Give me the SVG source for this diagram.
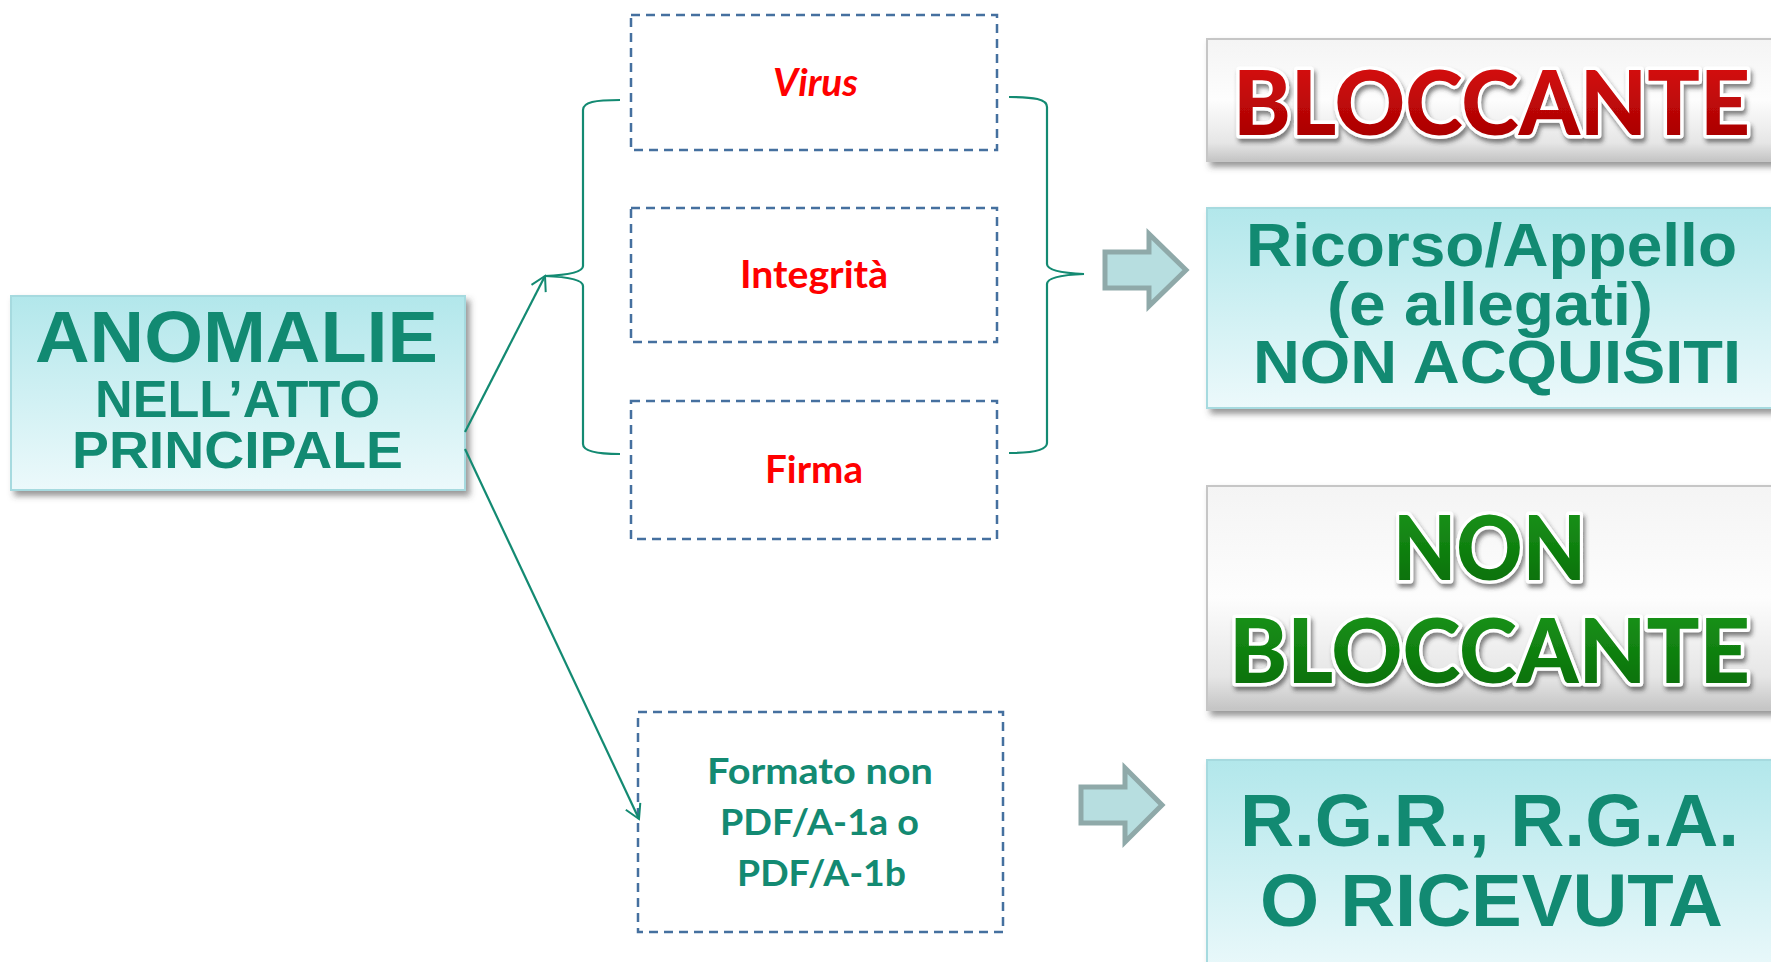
<svg xmlns="http://www.w3.org/2000/svg" width="1771" height="962" viewBox="0 0 1771 962">
<defs>
<linearGradient id="tealG" x1="0" y1="0" x2="0" y2="1">
<stop offset="0" stop-color="#b2e7eb"/><stop offset="1" stop-color="#ecf9fb"/>
</linearGradient>
<linearGradient id="grayG" x1="0" y1="0" x2="0" y2="1">
<stop offset="0" stop-color="#f4f4f4"/><stop offset="0.5" stop-color="#fdfdfd"/><stop offset="0.85" stop-color="#e6e6e6"/><stop offset="1" stop-color="#c4c4c4"/>
</linearGradient>
<linearGradient id="redG" x1="0" y1="0" x2="0" y2="1">
<stop offset="0" stop-color="#e01010"/><stop offset="1" stop-color="#a00000"/>
</linearGradient>
<linearGradient id="greenG" x1="0" y1="0" x2="0" y2="1">
<stop offset="0" stop-color="#1d9a1d"/><stop offset="1" stop-color="#056a05"/>
</linearGradient>
<filter id="sh" x="-5%" y="-10%" width="115%" height="130%">
<feDropShadow dx="4" dy="5" stdDeviation="3" flood-color="#444" flood-opacity="0.55"/>
</filter>
<filter id="tsh" x="-5%" y="-10%" width="115%" height="130%">
<feDropShadow dx="2" dy="4" stdDeviation="2" flood-color="#333" flood-opacity="0.6"/>
</filter>
<marker id="open" markerWidth="20" markerHeight="20" refX="16" refY="10" orient="auto" markerUnits="userSpaceOnUse">
<path d="M2,2 L16,10 L2,18" fill="none" stroke="#138a72" stroke-width="2"/>
</marker>
<style>
.tbox{fill:url(#tealG);stroke:#a6dadf;stroke-width:2;filter:url(#sh)}
.gbox{fill:url(#grayG);stroke:#c6c6c6;stroke-width:2;filter:url(#sh)}
.dbox{fill:none;stroke:#45709f;stroke-width:2.5;stroke-dasharray:9 6}
.big{font-family:"Liberation Sans",Arial,sans-serif;font-weight:bold;fill:#128a72}
.lbl{font-family:Lato,"Open Sans",sans-serif;font-weight:bold}
.red{fill:#ff0000}
.tl{fill:#138a72}
.btn{font-family:Lato,"Open Sans",sans-serif;font-weight:900;font-size:90px;stroke:#ffffff;stroke-width:7;paint-order:stroke;stroke-linejoin:round;filter:url(#tsh)}
.con{fill:none;stroke:#138a72;stroke-width:2.2}
.blk{fill:#b7dee0;stroke:#8fa9a9;stroke-width:5}
</style>
</defs>
<rect width="1771" height="962" fill="#ffffff"/>

<g id="n-anomalie">
<rect class="tbox" x="11" y="296" width="454" height="194"/>
<text class="big" x="35" y="362" font-size="73" textLength="403" lengthAdjust="spacingAndGlyphs">ANOMALIE</text>
<text class="big" x="95" y="417" font-size="52" textLength="285" lengthAdjust="spacingAndGlyphs">NELL’ATTO</text>
<text class="big" x="72" y="468" font-size="52" textLength="331" lengthAdjust="spacingAndGlyphs">PRINCIPALE</text>
</g>

<g id="n-virus">
<rect class="dbox" x="631" y="15" width="366" height="135"/>
<text class="lbl red" x="773" y="96" font-size="38" font-style="italic" textLength="85" lengthAdjust="spacingAndGlyphs">Virus</text>
</g>
<g id="n-integrita">
<rect class="dbox" x="631" y="208" width="366" height="134"/>
<text class="lbl red" x="740" y="288" font-size="38" textLength="148" lengthAdjust="spacingAndGlyphs">Integrità</text>
</g>
<g id="n-firma">
<rect class="dbox" x="631" y="401" width="366" height="138"/>
<text class="lbl red" x="765" y="483" font-size="38" textLength="98" lengthAdjust="spacingAndGlyphs">Firma</text>
</g>
<g id="n-formato">
<rect class="dbox" x="638" y="712" width="365" height="220"/>
<text class="lbl tl" x="707" y="784" font-size="36" textLength="226" lengthAdjust="spacingAndGlyphs">Formato non</text>
<text class="lbl tl" x="720" y="835" font-size="36" textLength="199" lengthAdjust="spacingAndGlyphs">PDF/A-1a o</text>
<text class="lbl tl" x="737" y="886" font-size="36" textLength="169" lengthAdjust="spacingAndGlyphs">PDF/A-1b</text>
</g>

<g id="n-bloccante">
<rect class="gbox" x="1207" y="39" width="580" height="122"/>
<text class="btn" x="1233" y="135" fill="url(#redG)" textLength="517" lengthAdjust="spacingAndGlyphs">BLOCCANTE</text>
</g>
<g id="n-ricorso">
<rect class="tbox" x="1207" y="208" width="580" height="200"/>
<text class="big" x="1246" y="266" font-size="61" textLength="491" lengthAdjust="spacingAndGlyphs">Ricorso/Appello</text>
<text class="big" x="1327" y="325" font-size="61" textLength="326" lengthAdjust="spacingAndGlyphs">(e allegati)</text>
<text class="big" x="1253" y="383" font-size="61" textLength="488" lengthAdjust="spacingAndGlyphs">NON ACQUISITI</text>
</g>
<g id="n-nonbloccante">
<rect class="gbox" x="1207" y="486" width="580" height="224"/>
<text class="btn" x="1393" y="580" fill="url(#greenG)" textLength="193" lengthAdjust="spacingAndGlyphs">NON</text>
<text class="btn" x="1229" y="683" fill="url(#greenG)" textLength="521" lengthAdjust="spacingAndGlyphs">BLOCCANTE</text>
</g>
<g id="n-rgr">
<rect class="tbox" x="1207" y="760" width="580" height="220"/>
<text class="big" x="1240" y="846" font-size="75" textLength="499" lengthAdjust="spacingAndGlyphs">R.G.R., R.G.A.</text>
<text class="big" x="1260" y="926" font-size="75" textLength="463" lengthAdjust="spacingAndGlyphs">O RICEVUTA</text>
</g>

<g id="connectors">
<path class="con" d="M465,432 L545,276" marker-end="url(#open)"/>
<path class="con" d="M465,449 L639,819" marker-end="url(#open)"/>
<path class="con" d="M620,100 C595,100 583,102 583,110 L583,266 C583,272 570,275 545,276 C570,277 583,280 583,286 L583,444 C583,451 595,454 620,454"/>
<path class="con" d="M1009,97 C1034,97 1047,99 1047,107 L1047,264 C1047,270 1060,273 1084,274 C1060,275 1047,278 1047,284 L1047,443 C1047,450 1034,453 1009,453"/>
<polygon class="blk" points="1105,252 1149,252 1149,234 1186,270 1149,306 1149,288 1105,288"/>
<polygon class="blk" points="1081,787 1125,787 1125,768 1162,805 1125,842 1125,823 1081,823"/>
</g>
</svg>
